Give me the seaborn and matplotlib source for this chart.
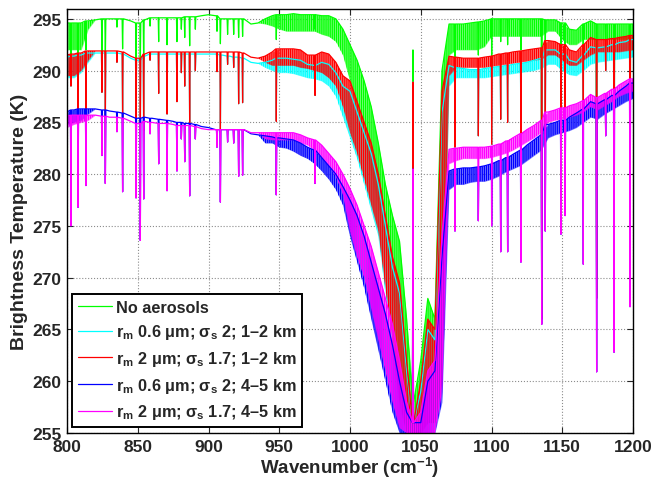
import numpy as np
import seaborn as sns
import matplotlib
matplotlib.use('Agg')
import matplotlib.pyplot as plt

# knot wavenumbers (cm-1) where the upper/lower envelope of each spectrum was read
wn = np.arange(800, 1201, 5)

green_hi = [294.6, 294.6, 294.6, 294.8, 294.9, 295.0, 295.0, 295.0, 295.0, 294.8,
            294.6, 294.9, 295.1, 295.1, 295.1, 295.1, 295.1, 295.2, 295.2, 295.3,
            295.4, 295.3, 295.0, 295.0, 295.0, 295.0, 294.5, 294.6, 295.0, 295.3,
            295.4, 295.4, 295.5, 295.4, 295.4, 295.4, 295.3, 295.3, 295.0, 294.0,
            292.5, 291.0, 289.0, 286.5, 283.0, 279.0, 276.0, 273.5, 266.0, 258.0,
            262.0, 268.0, 266.0, 290.0, 294.5, 294.5, 294.5, 294.6, 294.7, 294.8,
            295.0, 295.0, 295.0, 295.0, 295.0, 295.0, 295.0, 295.0, 294.9, 294.9,
            294.6, 294.0, 293.9, 294.5, 294.8, 294.5, 294.5, 294.5, 294.5, 294.5,
            294.5]
green_lo = [292.0, 292.0, 292.0, 294.0, 294.9, 295.0, 295.0, 295.0, 295.0, 294.8,
            294.6, 294.9, 295.1, 295.1, 295.1, 295.1, 295.1, 295.2, 295.2, 295.3,
            295.4, 295.3, 295.0, 295.0, 295.0, 295.0, 294.5, 294.6, 294.5, 294.3,
            294.0, 293.8, 293.8, 293.8, 293.8, 293.8, 293.5, 293.3, 292.8, 291.5,
            289.0, 286.0, 283.5, 280.0, 277.0, 273.5, 268.5, 263.0, 256.0, 255.0,
            255.0, 258.0, 257.0, 262.0, 291.5, 292.0, 292.0, 292.0, 292.0, 292.3,
            293.3, 293.3, 293.3, 293.3, 293.3, 293.3, 293.3, 293.3, 293.8, 293.8,
            293.0, 292.5, 292.5, 293.0, 293.0, 293.0, 293.0, 293.0, 293.0, 293.0,
            293.0]

cyan_hi = [291.3, 291.4, 291.5, 291.7, 291.7, 291.7, 291.7, 291.7, 291.6, 291.2,
           291.0, 291.4, 291.6, 291.6, 291.6, 291.6, 291.6, 291.6, 291.6, 291.6,
           291.6, 291.6, 291.5, 291.4, 291.3, 291.2, 290.8, 290.7, 290.8, 291.0,
           291.2, 291.2, 291.1, 291.0, 290.6, 290.5, 290.8, 290.6, 289.8, 288.5,
           288.0, 286.0, 284.0, 282.0, 279.0, 275.0, 271.0, 268.5, 261.0, 256.0,
           259.0, 265.0, 264.0, 286.0, 290.5, 290.3, 290.2, 290.1, 290.1, 290.2,
           290.3, 290.4, 290.5, 290.6, 290.7, 290.8, 291.0, 291.2, 292.0, 292.0,
           291.6, 291.0, 290.8, 291.5, 292.3, 292.2, 292.3, 292.5, 292.7, 292.8,
           293.0]
cyan_lo = [289.3, 289.3, 289.8, 290.8, 291.7, 291.7, 291.7, 291.7, 291.6, 291.2,
           291.0, 291.4, 291.6, 291.6, 291.6, 291.6, 291.6, 291.6, 291.6, 291.6,
           291.6, 291.6, 291.5, 291.4, 291.3, 291.2, 290.8, 290.7, 290.3, 290.0,
           289.8, 289.8, 289.7, 289.5, 289.3, 289.2, 289.0, 288.5, 287.5, 285.5,
           283.5, 281.5, 279.0, 276.5, 274.0, 268.5, 263.5, 257.5, 255.0, 255.0,
           255.0, 256.0, 256.0, 259.0, 288.5, 289.3, 289.3, 289.3, 289.3, 289.3,
           289.4, 289.5, 289.6, 289.7, 289.8, 289.9, 290.0, 290.2, 290.6, 290.6,
           290.0, 289.6, 289.5, 290.0, 290.6, 290.8, 290.9, 291.0, 291.1, 291.2,
           291.3]

red_hi = [291.5, 291.6, 291.7, 291.9, 291.9, 291.9, 291.9, 291.9, 291.8, 291.4,
          291.2, 291.6, 291.8, 291.8, 291.8, 291.8, 291.8, 291.8, 291.8, 291.8,
          291.8, 291.8, 291.8, 291.8, 291.8, 291.7, 291.3, 291.2, 291.4, 291.8,
          292.1, 292.1, 292.1, 292.0, 291.5, 291.5, 291.8, 291.6, 290.8, 289.5,
          289.0, 287.0, 285.0, 283.0, 280.0, 276.0, 272.0, 269.5, 262.0, 256.0,
          260.0, 266.0, 265.0, 288.0, 291.4, 291.3, 291.2, 291.2, 291.2, 291.3,
          291.4, 291.6, 291.7, 291.8, 291.9, 292.0, 292.1, 292.2, 292.9, 292.8,
          292.5, 292.0, 291.8, 292.5, 293.2, 293.0, 293.0, 293.1, 293.2, 293.3,
          293.4]
red_lo = [289.5, 289.5, 290.0, 291.0, 291.9, 291.9, 291.9, 291.9, 291.8, 291.4,
          291.2, 291.6, 291.8, 291.8, 291.8, 291.8, 291.8, 291.8, 291.8, 291.8,
          291.8, 291.8, 291.8, 291.8, 291.8, 291.7, 291.3, 291.2, 290.8, 290.5,
          290.5, 290.5, 290.5, 290.3, 290.2, 290.0, 289.8, 289.3, 288.5, 286.5,
          284.0, 282.0, 279.5, 277.0, 274.5, 269.0, 264.0, 258.0, 255.0, 255.0,
          255.0, 256.0, 256.0, 260.0, 289.5, 290.3, 290.3, 290.3, 290.3, 290.3,
          290.4, 290.5, 290.6, 290.7, 290.8, 290.9, 291.0, 291.1, 291.5, 291.5,
          291.0, 290.5, 290.5, 291.0, 291.5, 291.8, 291.8, 291.8, 291.8, 291.9,
          292.0]

blue_hi = [286.0, 286.2, 286.3, 286.3, 286.3, 286.2, 286.1, 286.0, 285.9, 285.6,
           285.4, 285.5, 285.4, 285.3, 285.2, 285.1, 285.0, 284.9, 284.8, 284.6,
           284.5, 284.3, 284.3, 284.3, 284.3, 284.3, 283.9, 283.8, 283.7, 283.6,
           283.5, 283.4, 283.3, 283.0, 282.6, 282.3, 281.6, 280.8, 280.0, 278.8,
           277.5, 276.0, 274.0, 271.5, 269.0, 266.5, 263.5, 260.0, 257.0, 256.0,
           256.0, 260.0, 261.0, 272.0, 280.3, 280.5, 280.6, 280.6, 280.7, 280.8,
           281.0, 281.3, 281.6, 281.9, 282.3, 282.8, 283.3, 283.8, 284.8, 285.0,
           285.2, 285.5, 285.9, 286.3, 287.0, 286.8, 287.2, 287.6, 288.0, 288.5,
           288.8]
blue_lo = [284.8, 285.0, 285.2, 285.8, 286.3, 286.2, 286.1, 286.0, 285.9, 285.6,
           285.4, 285.5, 285.4, 285.3, 285.2, 285.1, 285.0, 284.9, 284.8, 284.6,
           284.5, 284.3, 284.3, 284.3, 284.3, 284.3, 283.9, 283.8, 283.0, 283.0,
           282.6, 282.5, 282.2, 281.8, 281.5, 281.0, 280.3, 279.5, 278.5, 277.0,
           274.0, 271.5, 269.0, 266.0, 263.0, 260.0, 257.0, 255.0, 255.0, 255.0,
           255.0, 255.0, 255.0, 258.0, 278.5, 279.0, 279.0, 279.2, 279.3, 279.3,
           279.5, 279.8, 280.2, 280.5, 280.8, 281.3, 281.8, 282.3, 283.5, 283.8,
           284.0, 284.2, 284.5, 285.0, 285.5, 285.3, 285.8, 286.2, 286.6, 287.0,
           287.3]

magenta_hi = [285.6, 285.7, 285.7, 285.7, 285.7, 285.6, 285.5, 285.5, 285.4, 285.1,
              284.9, 285.1, 285.0, 284.9, 284.9, 284.8, 284.7, 284.7, 284.6, 284.4,
              284.3, 284.3, 284.3, 284.3, 284.3, 284.3, 284.0, 284.0, 284.0, 284.0,
              284.0, 284.0, 284.0, 283.8, 283.5, 283.3, 282.8, 282.0, 281.2, 280.0,
              278.6, 277.0, 275.0, 273.0, 270.5, 268.0, 265.5, 262.0, 258.0, 256.0,
              257.0, 261.0, 262.0, 274.0, 282.4, 282.5, 282.6, 282.6, 282.6, 282.6,
              282.7, 282.9, 283.2, 283.5, 283.9, 284.3, 284.7, 285.2, 286.0, 286.2,
              286.4, 286.6, 286.8, 287.1, 287.7, 287.4, 287.8, 288.2, 288.6, 289.0,
              289.2]
magenta_lo = [284.5, 284.8, 285.0, 285.2, 285.7, 285.6, 285.5, 285.5, 285.4, 285.1,
              284.9, 285.1, 285.0, 284.9, 284.9, 284.8, 284.7, 284.7, 284.6, 284.4,
              284.3, 284.3, 284.3, 284.3, 284.3, 284.3, 284.0, 284.0, 283.4, 283.3,
              283.3, 283.3, 283.3, 283.0, 282.8, 282.3, 281.6, 280.8, 279.8, 278.0,
              274.5, 272.0, 270.0, 267.0, 264.0, 261.0, 258.0, 255.5, 255.0, 255.0,
              255.0, 255.0, 255.0, 259.0, 281.0, 281.3, 281.5, 281.5, 281.5, 281.5,
              281.6, 281.8, 282.0, 282.3, 282.7, 283.1, 283.5, 284.0, 285.0, 285.2,
              285.3, 285.5, 285.7, 286.0, 286.5, 286.2, 286.6, 287.0, 287.5, 287.8,
              288.0]

# strong individual absorption lines: centre and bottom temperature per group
line_pos = [802.8, 807.8, 813.4, 824.7, 827.1, 835.3, 839.3, 848.8, 851.8, 854.2,
            858.7, 864.8, 870.7, 877.7, 880.8, 883.2, 886.7, 890.7, 906.0, 908.4,
            913.5, 917.8, 921.3, 924.1, 947.9, 975.3, 1044.5, 1074.2, 1090.7, 1100.1,
            1106.5, 1111.4, 1120.8, 1135.5, 1138.0, 1149.1, 1152.0, 1164.9, 1174.3, 1180.7,
            1186.6, 1197.9]
green_bot = [291.5, 291.5, 292.0, 291.8, 291.2, 294.2, 292.1, 291.2, 290.8, 291.0,
             294.3, 292.8, 292.5, 292.8, 294.0, 293.2, 292.4, 294.0, 293.8, 292.6,
             293.5, 293.5, 293.2, 293.3, 293.0, 294.0, 292.0, 290.5, 291.5, 290.5,
             292.8, 292.5, 292.0, 267.0, 292.5, 289.9, 291.5, 290.0, 270.0, 293.0,
             272.0, 276.0]
red_bot = [288.5, 285.3, 284.5, 287.9, 285.5, 290.8, 285.3, 284.0, 283.8, 284.2,
           291.0, 287.8, 285.8, 287.0, 289.8, 288.5, 284.7, 290.0, 289.9, 284.1,
           290.6, 290.3, 286.8, 286.9, 285.1, 287.6, 288.9, 282.6, 283.7, 282.9,
           285.3, 285.0, 283.6, 266.0, 284.0, 283.0, 285.0, 284.0, 268.0, 290.0,
           270.0, 273.0]
magenta_bot = [275.0, 276.8, 278.9, 281.8, 279.1, 284.1, 278.3, 277.7, 273.6, 277.6,
               283.9, 281.0, 278.4, 280.3, 283.4, 281.2, 277.9, 283.4, 282.6, 277.3,
               283.1, 283.0, 279.8, 279.9, 278.0, 279.1, 280.5, 274.5, 275.5, 275.0,
               272.5, 272.5, 271.5, 265.5, 274.5, 274.2, 276.0, 271.3, 260.9, 283.7,
               262.8, 267.2]

labels = ['No aerosols',
          r'r$_\mathrm{m}$ 0.6 μm; σ$_\mathrm{s}$ 2; 1–2 km',
          r'r$_\mathrm{m}$ 2 μm; σ$_\mathrm{s}$ 1.7; 1–2 km',
          r'r$_\mathrm{m}$ 0.6 μm; σ$_\mathrm{s}$ 2; 4–5 km',
          r'r$_\mathrm{m}$ 2 μm; σ$_\mathrm{s}$ 1.7; 4–5 km']


def spectrum(hi, bottoms):
    # envelope knots plus narrow spikes at the absorption lines
    hi = np.asarray(hi)
    xs = list(wn)
    ys = list(hi)
    for p, b in zip(line_pos, bottoms):
        k = int(np.argmin(np.abs(wn - p)))
        xs += [p - 0.35, p, p + 0.35]
        ys += [hi[k], b, hi[k]]
    order = np.argsort(xs, kind='stable')
    return np.asarray(xs)[order], np.asarray(ys)[order]


sns.set_style('ticks')
plt.rcParams['font.family'] = ['Liberation Sans', 'DejaVu Sans']
plt.rcParams['font.weight'] = 'bold'
plt.rcParams['mathtext.fontset'] = 'custom'
plt.rcParams['mathtext.rm'] = 'Liberation Sans:bold'
plt.rcParams['mathtext.it'] = 'Liberation Sans:bold'
plt.rcParams['mathtext.bf'] = 'Liberation Sans:bold'
plt.rcParams['hatch.linewidth'] = 0.9

fig = plt.figure(figsize=(6.62, 4.81), dpi=100)
ax = fig.add_axes([67 / 662, 47 / 481, 566 / 662, 424.5 / 481])

series = [
    (green_hi, green_lo, green_bot, '#00ff00'),
    (cyan_hi, cyan_lo, red_bot, '#00ffff'),
    (red_hi, red_lo, red_bot, '#ff0000'),
    (blue_hi, blue_lo, magenta_bot, '#0000ff'),
    (magenta_hi, magenta_lo, magenta_bot, '#ff00ff'),
]
for (hi, lo, bot, col), lab in zip(series, labels):
    # dense unresolved line structure: a striped band between the envelopes
    ax.fill_between(wn, lo, hi, color=col, alpha=0.5, linewidth=0)
    ax.fill_between(wn, lo, hi, facecolor=(1, 1, 1, 0), edgecolor=col,
                    hatch='||||||||', linewidth=0)
    x, y = spectrum(hi, bot)
    sns.lineplot(x=x, y=y, color=col, lw=0.9, sort=False, estimator=None,
                 label=lab, ax=ax)

ax.set_xlim(800, 1200)
ax.set_ylim(255, 296)
ax.set_xticks(np.arange(800, 1201, 50))
ax.set_yticks(np.arange(255, 296, 5))
ax.grid(True, linestyle=':', color='0.55', linewidth=0.8)
ax.tick_params(direction='in', top=True, right=True, length=4, width=0.8,
               labelsize=12.5, pad=4)
for s in ax.spines.values():
    s.set_linewidth(1.0)
    s.set_color('black')
ax.set_xlabel(r'Wavenumber (cm$^{-1}$)', fontsize=13.5, fontweight='bold', labelpad=1)
ax.set_ylabel('Brightness Temperature (K)', fontsize=14, fontweight='bold', labelpad=3)

leg = ax.legend(loc='lower left', bbox_to_anchor=(0.009, 0.014), borderaxespad=0,
                frameon=True, fancybox=False, edgecolor='black', framealpha=1,
                handlelength=2.1, handletextpad=0.25, labelspacing=0.47,
                borderpad=0.35, prop=dict(weight='bold', size=11.7))
leg.get_frame().set_linewidth(1.4)

fig.savefig('out.png', dpi=100)
